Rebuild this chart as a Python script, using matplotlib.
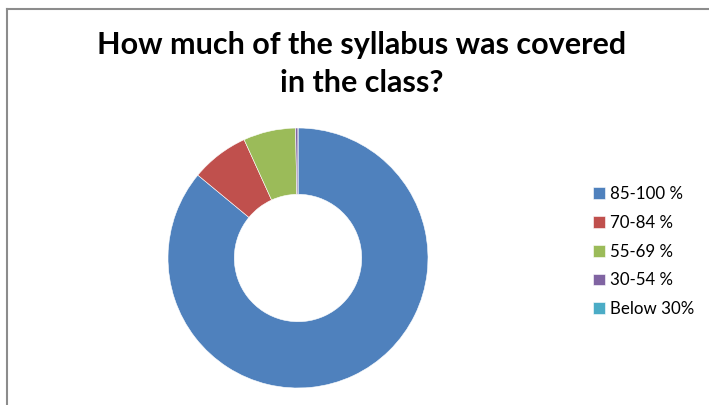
import matplotlib.pyplot as plt
from matplotlib.lines import Line2D

labels = ['85-100 %', '70-84 %', '55-69 %', '30-54 %', 'Below 30%']
values = [86.0, 7.2, 6.5, 0.3, 0.0]
colors = ['#4F81BD', '#C0504D', '#9BBB59', '#8064A2', '#4BACC6']

W, H = 709, 405
fig = plt.figure(figsize=(W / 100, H / 100), dpi=100)

# chart frame (only top and left edges visible in the crop)
fig.add_artist(Line2D([7 / W, 1], [1 - 9 / H, 1 - 9 / H], color='#8c8c8c', lw=1.5))
fig.add_artist(Line2D([7 / W, 7 / W], [0, 1 - 9 / H], color='#8c8c8c', lw=1.5))

cx, cy, r = 298, 258, 130
ax = fig.add_axes([(cx - r) / W, (H - cy - r) / H, 2 * r / W, 2 * r / H])
wedges, _ = ax.pie(values, colors=colors, startangle=90, counterclock=False,
                   radius=1, wedgeprops=dict(width=0.51, edgecolor='white', linewidth=0.4))
ax.set_xlim(-1, 1)
ax.set_ylim(-1, 1)
ax.set_aspect('equal')
ax.axis('off')

fig.text(362 / W, 1 - 64 / H, 'How much of the syllabus was covered\nin the class?',
         ha='center', va='center', fontsize=22, fontweight='bold',
         family='Lato', linespacing=1.4)

fig.legend(wedges, labels, loc='upper left', bbox_to_anchor=(578 / W, 1 - 171 / H),
           frameon=False, prop={'family': 'Lato', 'size': 12.2},
           handlelength=0.7, handleheight=0.7, handletextpad=0.3, labelspacing=0.75)

fig.savefig('out.png', dpi=100)
